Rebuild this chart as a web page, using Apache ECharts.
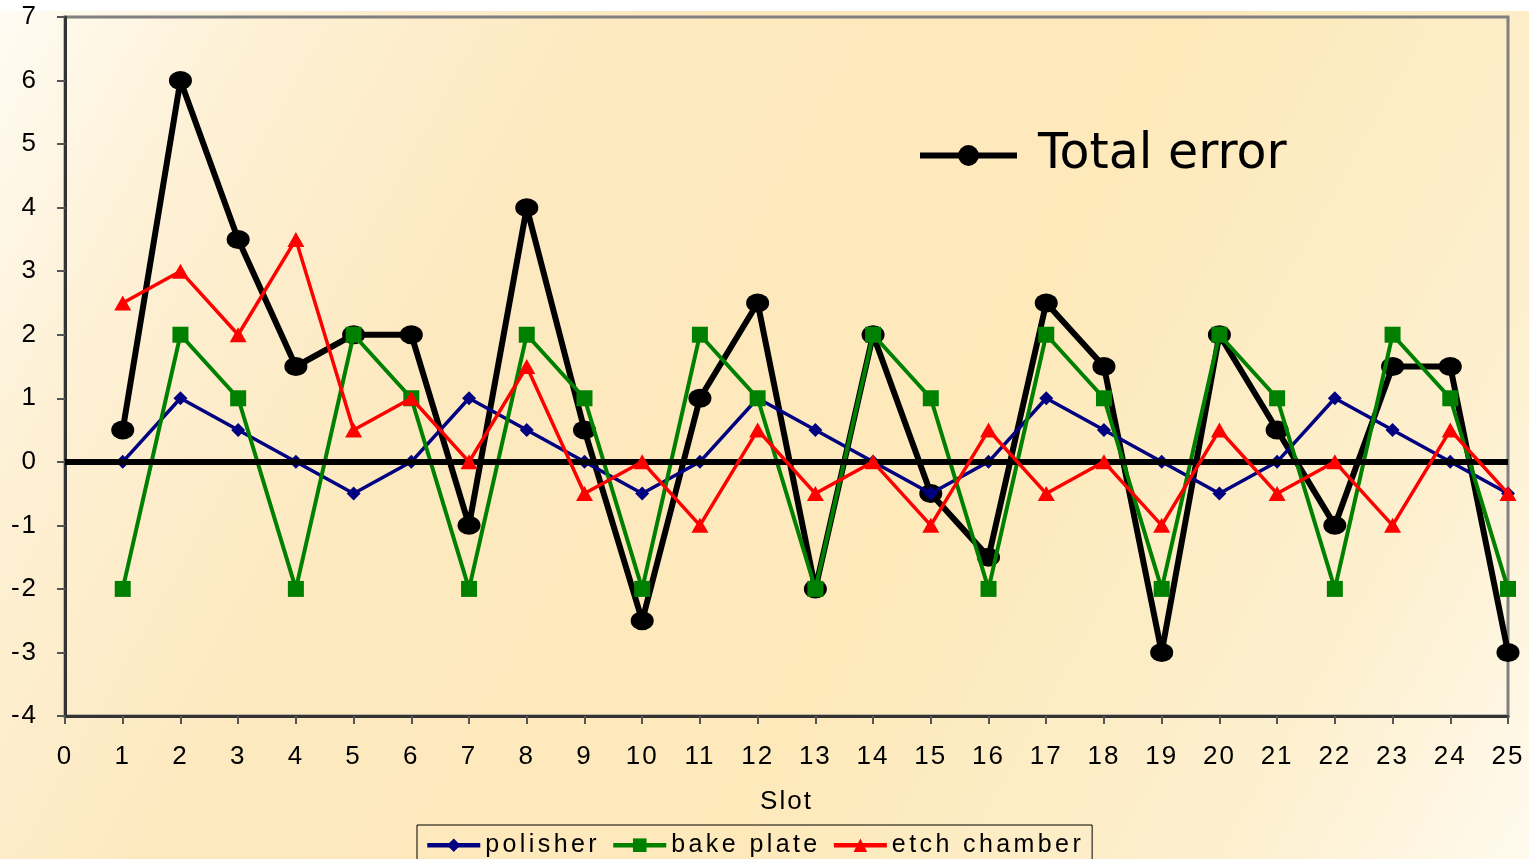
<!DOCTYPE html>
<html>
<head>
<meta charset="utf-8">
<title>Slot error components</title>
<script src="https://cdn.jsdelivr.net/npm/echarts@6/dist/echarts.min.js"></script>
<style>
  html, body { margin: 0; padding: 0; background: #ffffff; }
  #chart { position: absolute; left: 0; top: 0; width: 1529px; height: 859px; }
</style>
</head>
<body>
<div id="chart"></div>
<script>
// Slot numbers along the x axis
const slots = [1, 2, 3, 4, 5, 6, 7, 8, 9, 10, 11, 12, 13, 14, 15, 16, 17, 18, 19, 20, 21, 22, 23, 24, 25];

// Error contribution of each tool, per slot
const polisher     = [0, 1, 0.5, 0, -0.5, 0, 1, 0.5, 0, -0.5, 0, 1, 0.5, 0, -0.5, 0, 1, 0.5, 0, -0.5, 0, 1, 0.5, 0, -0.5];
const bakePlate    = [-2, 2, 1, -2, 2, 1, -2, 2, 1, -2, 2, 1, -2, 2, 1, -2, 2, 1, -2, 2, 1, -2, 2, 1, -2];
const etchChamber  = [2.5, 3, 2, 3.5, 0.5, 1, 0, 1.5, -0.5, 0, -1, 0.5, -0.5, 0, -1, 0.5, -0.5, 0, -1, 0.5, -0.5, 0, -1, 0.5, -0.5];
const totalError   = [0.5, 6, 3.5, 1.5, 2, 2, -1, 4, 0.5, -2.5, 1, 2.5, -2, 2, -0.5, -1.5, 2.5, 1.5, -3, 2, 0.5, -1, 1.5, 1.5, -3];

const pairs = (ys) => slots.map((x, i) => [x, ys[i]]);

// Tracked (letter-spaced) Arial-style lettering for axis and legend text.
(function () {
  const proto = CanvasRenderingContext2D.prototype;
  const desc = Object.getOwnPropertyDescriptor(proto, 'font');
  if (!desc || !('letterSpacing' in proto)) return;
  Object.defineProperty(proto, 'font', {
    configurable: true,
    get() { return desc.get.call(this); },
    set(v) {
      desc.set.call(this, v);
      if (/Liberation Sans/.test(v)) {
        this.letterSpacing = /\b25px\b/.test(v) ? '3.4px' : '2px';
      } else {
        this.letterSpacing = '0px';
      }
    }
  });
})();

const chart = echarts.init(document.getElementById('chart'), null, { renderer: 'canvas' });

const axisFont = { fontFamily: 'Liberation Sans', fontSize: 26, color: '#000' };

chart.setOption({
  animation: false,
  backgroundColor: {
    type: 'linear', x: 0, y: 0, x2: 1, y2: 1,
    colorStops: [
      { offset: 0, color: '#fffcf4' },
      { offset: 0.14, color: '#fdf0d4' },
      { offset: 0.32, color: '#fde9bf' },
      { offset: 0.6, color: '#fde9ba' },
      { offset: 0.85, color: '#fdf0cf' },
      { offset: 1, color: '#fffaee' }
    ]
  },
  // white band along the top edge of the page
  graphic: [{
    type: 'rect', left: 0, top: 0, z: -10, silent: true,
    shape: { width: 1529, height: 11 },
    style: { fill: '#ffffff' }
  }],
  grid: {
    left: 65, top: 17, right: 21, bottom: 143,
    outerBoundsMode: 'none',
    containLabel: false,
    show: true, borderColor: '#808080', borderWidth: 3,
    backgroundColor: 'transparent'
  },
  legend: [
    {
      data: ['Total error'],
      left: 912, top: 126,
      itemWidth: 97, itemHeight: 26,
      lineStyle: { width: 6 },
      textStyle: { fontFamily: 'DejaVu Sans, Verdana, sans-serif', fontSize: 49, color: '#000', padding: [0, 0, 0, 16] }
    },
    {
      data: ['polisher', 'bake plate', 'etch chamber'],
      left: 417, top: 825,
      itemWidth: 53, itemHeight: 17, itemGap: 11,
      padding: [6, 8, 10, 8],
      borderColor: '#000', borderWidth: 1,
      lineStyle: { width: 4.5 },
      textStyle: { fontFamily: 'Liberation Sans', fontSize: 25, color: '#000' }
    }
  ],
  xAxis: {
    type: 'value', min: 0, max: 25, interval: 1,
    name: 'Slot', nameLocation: 'middle', nameGap: 72,
    nameTextStyle: axisFont,
    axisLine: { show: true, onZero: false, lineStyle: { color: '#333', width: 3 } },
    axisTick: { show: true, inside: false, length: 8, lineStyle: { color: '#555', width: 2 } },
    axisLabel: Object.assign({ margin: 27 }, axisFont),
    splitLine: { show: false }
  },
  yAxis: {
    type: 'value', min: -4, max: 7, interval: 1,
    axisLine: { show: true, onZero: false, lineStyle: { color: '#333', width: 3 } },
    axisTick: { show: true, inside: false, length: 8, lineStyle: { color: '#555', width: 2 } },
    axisLabel: Object.assign({ margin: 27 }, axisFont),
    splitLine: { show: false }
  },
  series: [
    {
      name: 'Total error', type: 'line', data: pairs(totalError),
      symbol: 'circle', symbolSize: [23, 19],
      itemStyle: { color: '#000' },
      lineStyle: { color: '#000', width: 6 },
      z: 2
    },
    {
      name: 'polisher', type: 'line', data: pairs(polisher),
      symbol: 'diamond', symbolSize: 14,
      itemStyle: { color: '#000080' },
      lineStyle: { color: '#000080', width: 3.5 },
      z: 3
    },
    {
      name: 'bake plate', type: 'line', data: pairs(bakePlate),
      symbol: 'rect', symbolSize: 16,
      itemStyle: { color: '#008000' },
      lineStyle: { color: '#008000', width: 4 },
      z: 4
    },
    {
      name: 'etch chamber', type: 'line', data: pairs(etchChamber),
      symbol: 'triangle', symbolSize: [17, 15],
      itemStyle: { color: '#ff0000' },
      lineStyle: { color: '#ff0000', width: 3.5 },
      z: 5,
      markLine: {
        silent: true, symbol: 'none', label: { show: false },
        lineStyle: { color: '#000', width: 6, type: 'solid' },
        data: [{ yAxis: 0 }]
      }
    }
  ]
});
</script>
</body>
</html>
